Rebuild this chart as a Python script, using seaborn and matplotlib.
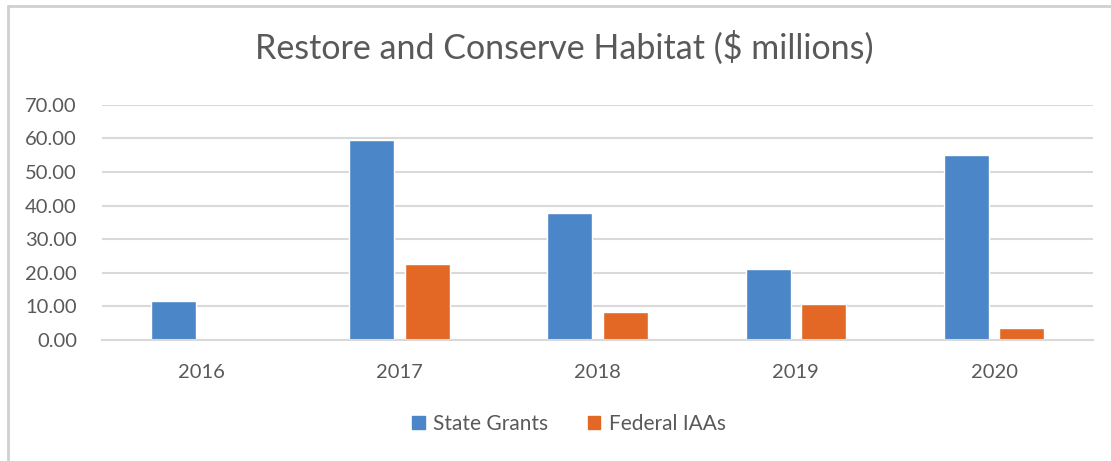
import matplotlib
matplotlib.use("Agg")
import matplotlib.pyplot as plt
import seaborn as sns
import pandas as pd
from matplotlib.lines import Line2D

years = ["2016", "2017", "2018", "2019", "2020"]
state_grants = [11.5, 59.6, 37.7, 21.0, 55.1]
federal_iaas = [0.0, 22.6, 8.3, 10.7, 3.6]
series_names = ["State Grants", "Federal IAAs"]
colors = ["#4A86C8", "#E36826"]

df = pd.DataFrame({
    "Year": years * 2,
    "Value": state_grants + federal_iaas,
    "Series": [series_names[0]] * len(years) + [series_names[1]] * len(years),
})

sns.set_theme(style="white")
plt.rcParams["font.family"] = ["Lato", "DejaVu Sans"]

fig = plt.figure(figsize=(11.11, 4.61), dpi=100)
ax = fig.add_axes([0.0918, 0.2625, 0.8922, 0.5105])

sns.barplot(data=df, x="Year", y="Value", hue="Series", palette=colors,
            width=0.56, gap=0.19, ax=ax, legend=False, saturation=1)

ax.set_ylim(0, 70)
ax.set_xlim(-0.5, 4.5)
ax.set_yticks(range(0, 71, 10))
ax.set_yticklabels([f"{v:.2f}" for v in range(0, 71, 10)])
ax.yaxis.grid(True, color="#D9D9D9", linewidth=1.5)
ax.set_axisbelow(True)
for s in ["left", "right", "top"]:
    ax.spines[s].set_visible(False)
ax.spines["bottom"].set_color("#D9D9D9")
ax.spines["bottom"].set_linewidth(1.5)
ax.tick_params(axis="y", length=0, pad=18, labelsize=14.5, labelcolor="#595959")
ax.tick_params(axis="x", length=0, pad=17, labelsize=14.5, labelcolor="#595959")
ax.set_xlabel("")
ax.set_ylabel("")

fig.text(0.508, 0.897, "Restore and Conserve Habitat ($ millions)",
         ha="center", va="center", fontsize=24.5, color="#595959")

handles = [plt.Rectangle((0, 0), 1, 1, color=c) for c in colors]
fig.legend(handles, series_names, loc="center", bbox_to_anchor=(0.512, 0.08),
           ncol=2, frameon=False, fontsize=15, labelcolor="#595959",
           handlelength=0.6, handleheight=0.6, handletextpad=0.4, columnspacing=1.9)

# outer chart frame (left and top edges)
fig.add_artist(Line2D([0.0072, 0.0072], [0.0, 0.987], transform=fig.transFigure,
                      color="#D0D0D0", linewidth=2))
fig.add_artist(Line2D([0.0072, 1.0], [0.987, 0.987], transform=fig.transFigure,
                      color="#D0D0D0", linewidth=2))

fig.savefig("out.png", dpi=100, facecolor="white")
